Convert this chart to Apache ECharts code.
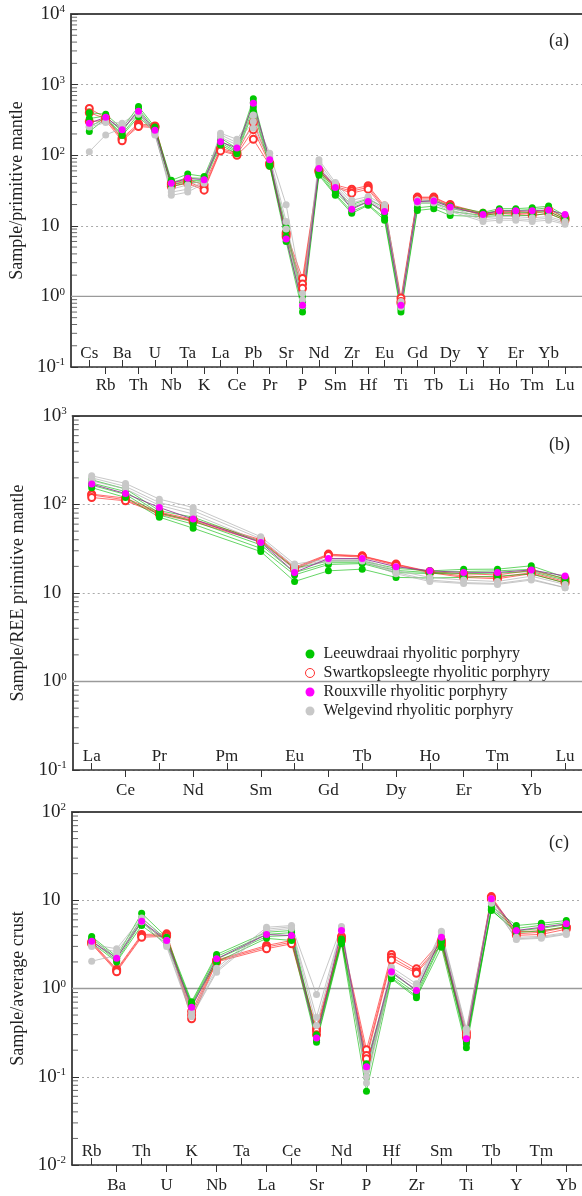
<!DOCTYPE html>
<html><head><meta charset="utf-8">
<script src="https://cdn.jsdelivr.net/npm/echarts@6/dist/echarts.min.js"></script>
<style>html,body{margin:0;padding:0;background:#fff}#c{width:582px;height:1196px}</style>
</head><body><div id="c"></div>
<script>
// ---------- categories ----------
const catsA = ['Cs','Rb','Ba','Th','U','Nb','Ta','K','La','Ce','Pb','Pr','Sr','P','Nd','Sm','Zr','Hf','Eu','Ti','Gd','Tb','Dy','Li','Y','Ho','Er','Tm','Yb','Lu'];
const catsB = ['La','Ce','Pr','Nd','Pm','Sm','Eu','Gd','Tb','Dy','Ho','Er','Tm','Yb','Lu'];
const catsC = ['Rb','Ba','Th','U','K','Nb','Ta','La','Ce','Sr','Nd','P','Hf','Zr','Sm','Ti','Tb','Y','Tm','Yb'];

// ---------- y ranges (log) ----------
const yRangeA = [0.1, 10000];
const yRangeB = [0.1, 1000];
const yRangeC = [0.01, 100];

const yTitleA = 'Sample/primitive mantle';
const yTitleB = 'Sample/REE primitive mantle';
const yTitleC = 'Sample/average crust';

// ---------- panel (a) ----------
const aLeeuwdraai = [
 [400,380,240,490,250,44,54,50,175,125,630,80,9.5,1.0,62,32,20,24,18,0.8,22,23,19,null,15.5,17.5,17.5,18,19,14],
 [330,360,215,450,235,41,48,47,160,115,560,75,8.5,0.85,58,30,18,22,15,0.7,21,21,17.5,null,15,16.5,16.5,17,18,13],
 [250,340,200,380,225,38,44,44,150,110,480,72,7,0.7,55,28,16,20,13,0.65,18,19,16,null,14,15,15.5,15.5,16,12.5],
 [216,330,190,350,215,36,41,42,140,105,420,70,6,0.6,52,27,15,19.5,12,0.6,16.5,17.5,14,null,13.5,14,14,14,15,12]
];
const aSwartkopsleegte = [
 [460,340,175,280,260,40,45,38,125,108,290,78,8,1.8,62,38,33,37,19,0.95,25.5,25.5,20,null,15,16,16,15.5,17,13],
 [400,330,168,265,255,38,42,34,120,103,230,75,7.5,1.5,60,36,31,35,18,0.85,25,25,19.5,null,14.5,15.5,15,15,16,12.5],
 [300,310,160,255,245,36,40,32,115,100,168,72,7,1.3,58,35,29,33,17,0.8,24,24,19,null,14,15,14.5,14,15,12]
];
const aRouxville = [
 [283,345,230,420,225,40,47,45,155,126,543,86,6.5,0.75,65,35,17.2,22,15.9,0.75,22,22.5,18.5,null,14.5,16.3,16.3,16.3,16.8,14.5]
];
const aWelgevind = [
 [270,300,283,412,194,33,38,44,205,168,371,107,19.8,1.1,86,41,23,26,19.8,0.85,23,23,18,null,13,13.5,13.5,13,13.5,11.5],
 [250,290,260,400,200,30,33,42,195,150,300,95,11.5,0.9,78,38,21,24.6,18,0.76,22,22,17,null,12.2,12.8,12.6,12.2,12.8,10.9],
 [112,194,240,380,210,27,30,40,180,140,241,88,9,0.74,70,36,19,23,17,0.7,21,21,16,null,11.5,12,12,11.5,12,10.5]
];

// ---------- panel (b) ----------
const bLeeuwdraai = [
 [190,150,85,72,null,38,19,23,23,19,17.8,18.5,18.6,20.3,15],
 [175,140,80,65,null,35,17,22,22,18,17,17.5,17.8,18.5,14.5],
 [165,130,76,60,null,32,16,21,21.5,17,16.6,16.5,16.8,17.5,14],
 [155,120,72,54,null,29.4,13.5,17.8,18.6,15,14.8,15,15.5,16.4,13]
];
const bSwartkopsleegte = [
 [131,118,82,68,null,40,19.5,27.5,26.3,21.2,17.5,16.5,16,18,14.5],
 [128,113,80,66,null,39,19,27,26,21,17.2,15.6,15,17,13.5],
 [120,110,78,64,null,38,18.5,26.5,25.5,20.5,17,15,14.5,16.5,13]
];
const bRouxville = [
 [170,133,92.5,68.4,null,37.2,17.1,24.5,24.5,19.8,17.8,17.1,17.1,18.2,15.6]
];
const bWelgevind = [
 [211,173,115,92.5,null,43.2,21.2,24.2,24.2,18,15,14,13.5,15.5,12.5],
 [200,160,105,85,null,41,20,23.5,23.5,17.1,14,13.1,12.8,14.4,11.5],
 [185,150,98,78,null,38,18.5,23,23,16.5,13.5,12.8,12.5,14,11.5]
];

// ---------- panel (c) ----------
const cLeeuwdraai = [
 [3.88,2.3,7.13,3.81,0.71,2.43,null,4.34,4.54,0.3,3.65,0.14,1.5,0.95,3.8,0.26,8.5,5.17,5.49,5.89],
 [3.7,2.2,6.3,3.6,0.68,2.3,null,4.1,4.3,0.28,3.5,0.12,1.4,0.88,3.5,0.25,8.0,4.8,5.2,5.6],
 [3.5,2.07,5.63,3.4,0.66,2.15,null,3.88,4.0,0.26,3.35,0.1,1.33,0.82,3.34,0.236,7.64,4.5,4.8,5.3],
 [3.3,2.0,5.17,3.2,0.64,2.0,null,3.7,3.5,0.246,3.21,0.0687,1.29,0.785,2.94,0.213,7.8,4.3,4.5,5.0]
];
const cSwartkopsleegte = [
 [3.4,1.65,4.09,4.16,0.55,2.1,null,3.07,3.5,0.35,3.9,0.202,2.43,1.67,3.5,0.32,11.0,4.4,4.5,5.0],
 [3.3,1.6,3.95,4.0,0.5,2.05,null,2.95,3.35,0.33,3.7,0.174,2.26,1.55,3.3,0.3,10.6,4.16,4.34,4.94],
 [3.2,1.55,3.81,3.9,0.454,2.0,null,2.82,3.21,0.3,3.5,0.16,2.1,1.49,3.1,0.28,10.3,4.0,4.1,4.7]
];
const cRouxville = [
 [3.43,2.2,5.8,3.5,0.615,2.17,null,4.09,3.98,0.274,4.54,0.13,1.55,0.95,3.81,0.269,10.4,4.54,4.94,5.4]
];
const cWelgevind = [
 [3.15,2.82,6.3,3.5,0.55,1.7,null,4.94,5.17,0.855,5.04,0.118,1.74,1.13,4.46,0.35,10.4,3.8,3.9,4.3],
 [3.0,2.6,6.0,3.2,0.5,1.6,null,4.7,5.0,0.473,4.8,0.1,1.6,1.05,4.3,0.33,9.6,3.65,3.81,4.16],
 [2.04,2.37,5.7,2.99,0.48,1.53,null,4.5,4.8,0.38,4.6,0.085,1.49,0.98,4.1,0.3,9.25,3.6,3.7,4.1]
];

// ---------- styling ----------
const FONT = 'Liberation Serif, Times New Roman, serif';
const TXT = '#222';
const groupStyle = {
  L: {name:'Leeuwdraai rhyolitic porphyry', symbol:'circle', color:'#00c800', line:'rgba(0,185,0,0.6)'},
  S: {name:'Swartkopsleegte rhyolitic porphyry', symbol:'emptyCircle', color:'#ff3030', line:'rgba(255,50,50,0.7)'},
  R: {name:'Rouxville rhyolitic porphyry', symbol:'circle', color:'#ff00ff', line:'rgba(150,60,150,0.9)'},
  W: {name:'Welgevind rhyolitic porphyry', symbol:'circle', color:'#c8c8c8', line:'rgba(175,175,175,0.7)'}
};

const panels = [
  {cats:catsA, range:yRangeA, title:yTitleA, tag:'(a)', frame:{left:70,right:0,top:14,height:353}, data:{left:81.1,right:8.8,top:14,height:353},
   groups:[['S',aSwartkopsleegte],['L',aLeeuwdraai],['W',aWelgevind],['R',aRouxville]], tagTop:27, outMargin:10},
  {cats:catsB, range:yRangeB, title:yTitleB, tag:'(b)', frame:{left:72.7,right:0,top:416,height:354}, data:{left:74.8,right:-1,top:416,height:354},
   groups:[['S',bSwartkopsleegte],['L',bLeeuwdraai],['W',bWelgevind],['R',bRouxville]], tagTop:431, outMargin:12},
  {cats:catsC, range:yRangeC, title:yTitleC, tag:'(c)', frame:{left:72,right:0,top:812,height:353}, data:{left:79.2,right:3.2,top:812,height:353},
   groups:[['S',cSwartkopsleegte],['L',cLeeuwdraai],['W',cWelgevind],['R',cRouxville]], tagTop:829, outMargin:12}
];

const grid = [], xAxis = [], yAxis = [], series = [], title = [];
const labelFmt = v => {
  const e = Math.round(Math.log10(v));
  return e === 1 ? '{b|10}{h|0}' : '{b|10}{s|' + e + '}';
};

panels.forEach((p, i) => {
  const gF = grid.length; grid.push(p.frame);
  const gD = grid.length; grid.push(p.data);
  const decades = Math.round(Math.log10(p.range[1] / p.range[0]));
  const xF = xAxis.length;
  xAxis.push({gridIndex:gF, type:'value', min:0, max:1, position:'bottom',
    axisLine:{show:true, onZero:false, lineStyle:{color:'#333', width:1.5}}, axisTick:{show:false}, axisLabel:{show:false}, splitLine:{show:false}});
  xAxis.push({gridIndex:gF, type:'value', min:0, max:1, position:'top',
    axisLine:{show:true, onZero:false, lineStyle:{color:'#4a4a4a', width:2.2}}, axisTick:{show:false}, axisLabel:{show:false}, splitLine:{show:false}});
  const xD = xAxis.length;
  xAxis.push({gridIndex:gD, type:'category', data:p.cats, boundaryGap:true, position:'bottom',
    axisLine:{show:false},
    axisTick:{show:true, inside:true, length:7, alignWithLabel:true, interval:(idx)=>idx%2===0, lineStyle:{color:'#333'}},
    axisLabel:{inside:true, margin:5, interval:(idx)=>idx%2===0, fontFamily:FONT, fontSize:17, color:TXT},
    splitLine:{show:false}});
  xAxis.push({gridIndex:gD, type:'category', data:p.cats, boundaryGap:true, position:'bottom',
    axisLine:{show:false},
    axisTick:{show:true, inside:false, length:7, alignWithLabel:true, interval:(idx)=>idx%2===1, lineStyle:{color:'#333'}},
    axisLabel:{inside:false, margin:p.outMargin, interval:(idx)=>idx%2===1, fontFamily:FONT, fontSize:17, color:TXT},
    splitLine:{show:false}});
  const yF = yAxis.length;
  yAxis.push({gridIndex:gF, type:'log', logBase:10, min:p.range[0], max:p.range[1], splitNumber:decades,
    name:p.title, nameLocation:'middle', nameGap:45, nameTextStyle:{fontFamily:FONT, fontSize:18, color:TXT},
    axisLine:{show:true, lineStyle:{color:'#111', width:1.5}},
    axisTick:{show:true, inside:true, length:7, lineStyle:{color:'#333'}},
    axisLabel:{margin:6, formatter:labelFmt, rich:{
      b:{fontFamily:FONT, fontSize:19, color:TXT},
      s:{fontFamily:FONT, fontSize:11, color:TXT, padding:[0,0,9,0]},
      h:{fontFamily:FONT, fontSize:11, color:'rgba(0,0,0,0)', padding:[0,0,9,0]}}},
    splitLine:{show:true, lineStyle:{color:'#aaa', type:[2,3], width:1}}});
  const yD = yAxis.length;
  yAxis.push({gridIndex:gD, type:'log', logBase:10, min:p.range[0], max:p.range[1], show:false, splitLine:{show:false}});

  series.push({type:'line', xAxisIndex:xF, yAxisIndex:yF, data:[[0,1],[1,1]], symbol:'none', silent:true, z:1,
    lineStyle:{color:'#9a9a9a', width:1.3}, animation:false});
  const minor = [];
  for (let k = Math.round(Math.log10(p.range[0])); k < Math.round(Math.log10(p.range[1])); k++) {
    for (let m = 2; m <= 9; m++) minor.push([0, m * Math.pow(10, k)]);
  }
  series.push({type:'scatter', xAxisIndex:xF, yAxisIndex:yF, data:minor, symbol:'rect', symbolSize:[6,1], symbolOffset:[3,0],
    itemStyle:{color:'#444'}, silent:true, z:3, animation:false});

  p.groups.forEach(([key, arr]) => {
    const st = groupStyle[key];
    arr.forEach(vals => {
      series.push({type:'line', name:st.name, xAxisIndex:xD, yAxisIndex:yD, data:vals, connectNulls:true,
        symbol:st.symbol, symbolSize:7, showSymbol:true, animation:false,
        lineStyle:{color:st.line, width:1},
        itemStyle:{color:st.color, borderColor:st.color, borderWidth: st.symbol==='emptyCircle'?0.8:0}});
    });
  });
  title.push({text:p.tag, left:544, top:p.tagTop, textStyle:{fontFamily:FONT, fontSize:18, fontWeight:'normal', color:TXT}});
});

const chart = echarts.init(document.getElementById('c'), null, {renderer:'canvas'});
chart.setOption({
  animation:false,
  backgroundColor:'#fff',
  title,
  grid, xAxis, yAxis, series,
  legend:{
    orient:'vertical', left:300, top:641, itemGap:3, itemWidth:9, itemHeight:9,
    textStyle:{fontFamily:FONT, fontSize:16, color:TXT, padding:[0,0,0,4]},
    selectedMode:false,
    data:[
      {name:groupStyle.L.name, icon:'circle', itemStyle:{color:groupStyle.L.color, borderWidth:0}},
      {name:groupStyle.S.name, icon:'circle', itemStyle:{color:'#fff', borderColor:groupStyle.S.color, borderWidth:1}},
      {name:groupStyle.R.name, icon:'circle', itemStyle:{color:groupStyle.R.color, borderWidth:0}},
      {name:groupStyle.W.name, icon:'circle', itemStyle:{color:groupStyle.W.color, borderWidth:0}}
    ]
  }
});
</script>
</body></html>
